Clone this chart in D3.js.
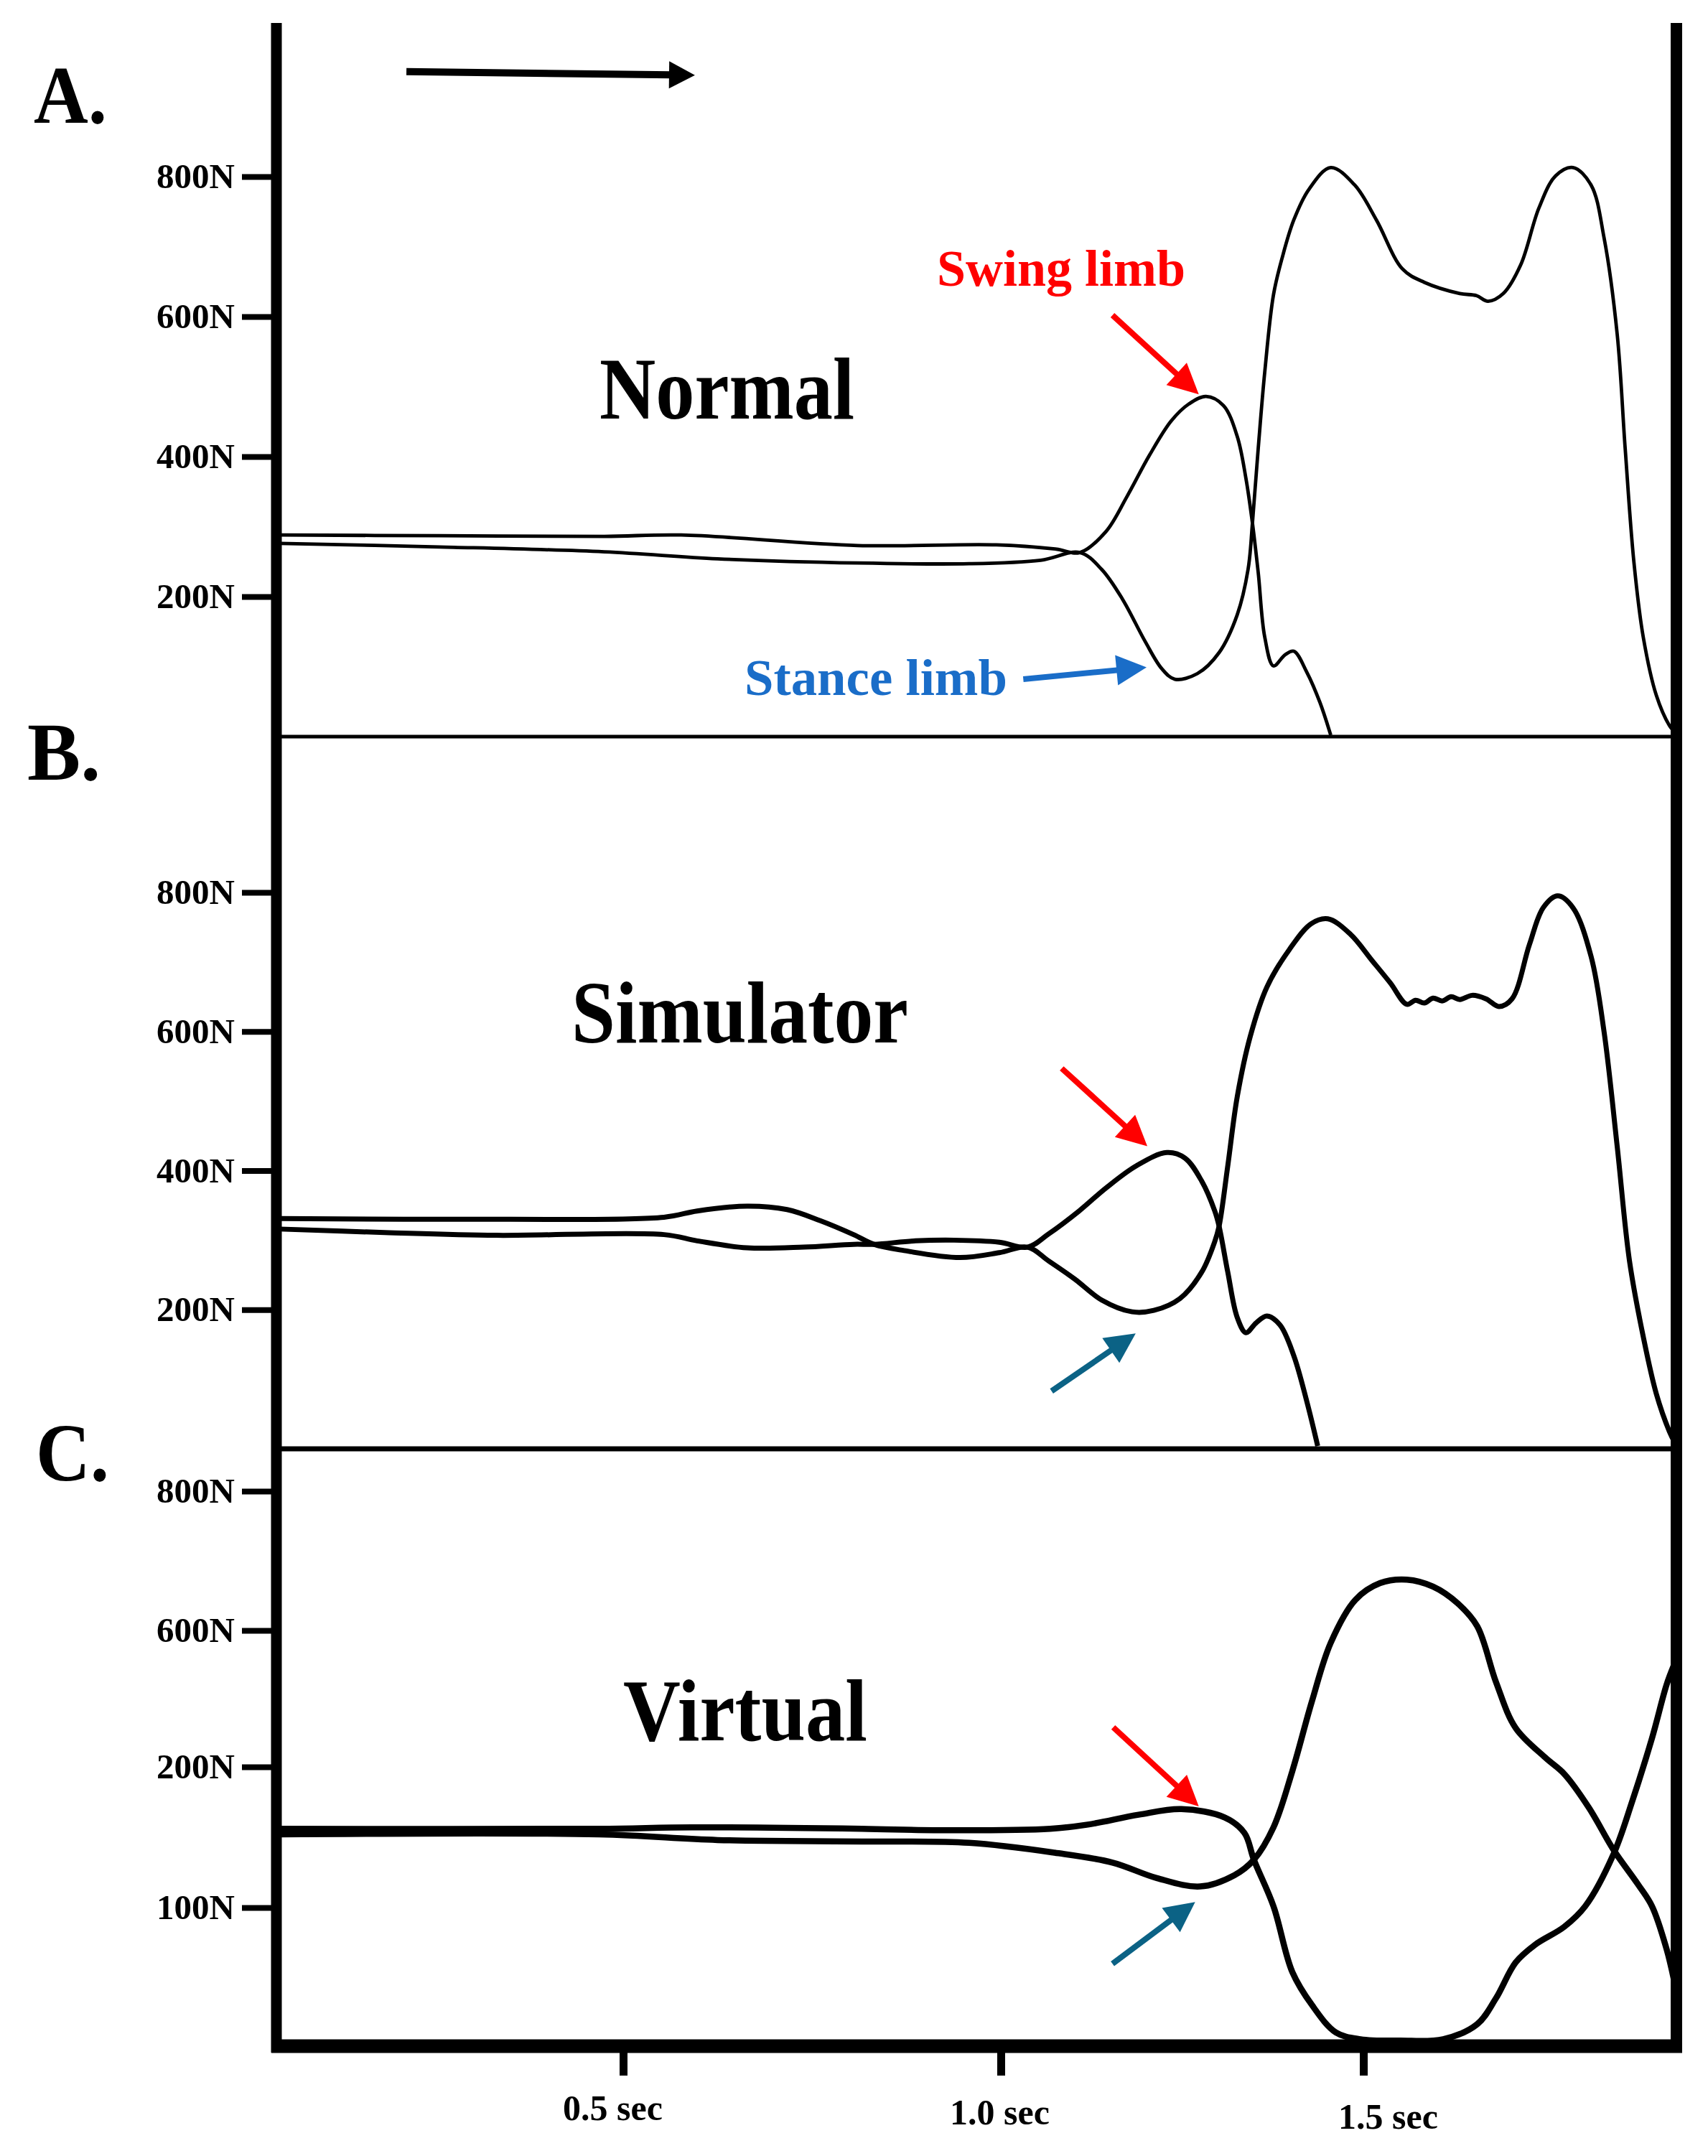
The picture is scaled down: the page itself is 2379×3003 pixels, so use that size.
<!DOCTYPE html>
<html>
<head>
<meta charset="utf-8">
<script src="https://cdn.jsdelivr.net/npm/d3@7"></script>
<style>
  html, body { margin: 0; padding: 0; background: #ffffff; }
  text { font-family: "Liberation Serif", "Times New Roman", "DejaVu Serif", serif; font-weight: bold; }
</style>
</head>
<body>
<svg id="chart" width="2379" height="3003"></svg>
<script>
// ---------------- DATA ----------------
const timeTicks = [0.5, 1.0, 1.5];
const timeTickLabels = ["0.5 sec", "1.0 sec", "1.5 sec"];
const forceTicksAB = [200, 400, 600, 800];
const forceTicksC = [100, 200, 600, 800];
const panelLetters = ["A.", "B.", "C."];
const panelTitles = ["Normal", "Simulator", "Virtual"];
const annotationLabels = ["Swing limb", "Stance limb"];

// Panel A (Normal): [time s, force N]
const normalSwing = [[0.045,288],[0.257,287],[0.475,286],[0.577,288],[0.810,273],[0.994,274],[1.075,268],[1.109,263],
  [1.145,293],[1.174,343],[1.205,402],[1.235,451],[1.259,475],[1.283,486],[1.307,473],[1.326,429],[1.338,369],
  [1.347,305],[1.355,234],[1.364,142],[1.376,101],[1.392,117],[1.404,122],[1.422,92],[1.440,49],[1.455,2]];
const normalStance = [[0.045,276],[0.257,271],[0.475,264],[0.625,254],[0.810,248],[0.958,247],[1.055,252],[1.109,263],
  [1.139,239],[1.168,196],[1.199,136],[1.222,97],[1.240,82],[1.271,90],[1.301,120],[1.326,174],[1.341,239],
  [1.347,305],[1.355,412],[1.364,521],[1.376,631],[1.388,684],[1.404,738],[1.425,782],[1.455,813],[1.488,788],[1.518,738],
  [1.554,668],[1.584,649],[1.633,633],[1.656,630],[1.672,622],[1.693,633],[1.717,674],[1.742,755],[1.765,801],
  [1.789,813],[1.814,788],[1.832,712],[1.850,575],[1.861,412],[1.873,250],[1.886,142],[1.904,59],[1.922,16],[1.930,6]];

// Panel B (Simulator)
const simSwing = [[0.045,316],[0.184,311],[0.332,307],[0.554,308],[0.598,299],[0.664,289],[0.739,290],[0.805,294],
  [0.832,294],[0.887,299],[0.938,300],[0.998,297],[1.037,290],[1.066,309],[1.108,342],[1.145,375],[1.187,407],
  [1.229,426],[1.254,418],[1.277,385],[1.295,342],[1.301,320],[1.313,254],[1.326,189],[1.338,167],[1.352,181],
  [1.367,191],[1.385,178],[1.404,134],[1.422,68],[1.437,4]];
const simStance = [[0.045,331],[0.332,330],[0.554,333],[0.598,342],[0.664,349],[0.717,344],[0.761,328],[0.805,308],
  [0.832,294],[0.872,285],[0.946,275],[0.998,282],[1.037,290],[1.066,270],[1.102,244],[1.139,214],[1.181,197],
  [1.211,199],[1.247,216],[1.277,254],[1.295,298],[1.301,320],[1.313,407],[1.326,506],[1.344,593],[1.367,664],
  [1.398,718],[1.428,755],[1.451,762],[1.482,740],[1.512,702],[1.537,670],[1.560,639],[1.572,645],[1.584,641],
  [1.596,648],[1.609,644],[1.621,650],[1.633,646],[1.650,652],[1.669,647],[1.687,636],[1.705,647],[1.729,725],
  [1.748,778],[1.768,795],[1.789,778],[1.814,708],[1.832,599],[1.850,435],[1.867,270],[1.886,161],[1.904,79],
  [1.922,25],[1.930,8]];

// Panel C (Virtual)
const virtSwing = [[0.045,156],[0.468,156],[0.591,157],[0.816,156],[0.911,155],[1.068,156],[1.120,159],[1.190,166],
  [1.249,170],[1.309,164],[1.336,153],[1.349,134],[1.376,101],[1.402,53],[1.429,29],[1.462,9],[1.496,4],[1.551,3],
  [1.610,4],[1.657,15],[1.683,34],[1.710,60],[1.737,73],[1.777,86],[1.806,101],[1.845,138],[1.871,176],[1.898,284],
  [1.918,440],[1.928,497]];
const virtStance = [[0.045,152],[0.468,152],[0.625,148],[0.816,147],[0.958,146],[1.074,139],[1.154,132],[1.215,121],
  [1.275,115],[1.322,123],[1.349,134],[1.376,157],[1.402,197],[1.429,392],[1.455,564],[1.489,644],[1.523,668],
  [1.560,673],[1.596,663],[1.630,639],[1.657,606],[1.683,448],[1.710,314],[1.751,227],[1.777,195],[1.811,171],
  [1.845,141],[1.878,117],[1.898,101],[1.918,70],[1.928,48]];

// Annotation arrows, in data units [time, force]
const arrowsA = [{from:[1.154,602], to:[1.273,489], color:"#ff0000"}, {from:[1.031,82], to:[1.201,99], color:"#1a6dc8"}];
const arrowsB = [{from:[1.084,547], to:[1.202,435], color:"#ff0000"}, {from:[1.070,83], to:[1.186,166], color:"#0b6285"}];
const arrowsC = [{from:[1.155,316], to:[1.273,172], color:"#ff0000"}, {from:[1.154,59], to:[1.268,104], color:"#0b6285"}];
const directionArrow = {from:[0.213,950], to:[0.595,945], color:"#000000"};

// ---------------- LAYOUT ----------------
const svg = d3.select("#chart");
svg.append("rect").attr("width", 2379).attr("height", 3003).attr("fill", "#ffffff");

const xLeft = 385, xRight = 2335, yTop = 32, yBottomAxis = 2850;

const x = d3.scaleLinear().domain([0.5, 1.0, 1.5]).range([868, 1394, 1899]);
const yA = d3.scaleLinear().domain([0, 800]).range([1026, 246]);
const yB = d3.scaleLinear().domain([0, 800]).range([2018, 1243]);
const yC = d3.scaleLinear().domain([0, 100, 200, 600, 800]).range([2848, 2657, 2461, 2271, 2077]);

const panels = [
  {y: yA, swing: normalSwing, stance: normalStance, lw: 4.8, ticks: forceTicksAB, arrows: arrowsA,
   letter: {x: 47, y: 171}, title: {x: 835, y: 583, len: 355}},
  {y: yB, swing: simSwing, stance: simStance, lw: 7, ticks: forceTicksAB, arrows: arrowsB,
   letter: {x: 38, y: 1086}, title: {x: 796, y: 1452, len: 469}},
  {y: yC, swing: virtSwing, stance: virtStance, lw: 8.5, ticks: forceTicksC, arrows: arrowsC,
   letter: {x: 50, y: 2062}, title: {x: 868, y: 2424, len: 340}}
];

function drawArrow(g, x1, y1, x2, y2, color, w, hl, hw) {
  const dx = x2 - x1, dy = y2 - y1, L = Math.hypot(dx, dy), ux = dx / L, uy = dy / L;
  const bx = x2 - ux * hl, by = y2 - uy * hl;
  g.append("line").attr("x1", x1).attr("y1", y1).attr("x2", bx + ux * 3).attr("y2", by + uy * 3)
    .attr("stroke", color).attr("stroke-width", w);
  g.append("polygon")
    .attr("points", [[x2, y2], [bx - uy * hw, by + ux * hw], [bx + uy * hw, by - ux * hw]].map(p => p.join(",")).join(" "))
    .attr("fill", color);
}

const curvesG = svg.append("g");
const annG = svg.append("g");
const axesG = svg.append("g");

panels.forEach((p, i) => {
  const line = d3.line().x(d => x(d[0])).y(d => p.y(d[1])).curve(d3.curveCatmullRom.alpha(0.5));
  [p.swing, p.stance].forEach(series => {
    curvesG.append("path").attr("d", line(series)).attr("fill", "none")
      .attr("stroke", "#000").attr("stroke-width", p.lw).attr("stroke-linejoin", "round");
  });

  // panel baseline (for A and B)
  if (i < 2) {
    axesG.append("line").attr("x1", xLeft).attr("x2", xRight)
      .attr("y1", p.y(0)).attr("y2", p.y(0)).attr("stroke", "#000").attr("stroke-width", i === 0 ? 5 : 7);
  }

  // y axis ticks
  const ax = d3.axisLeft(p.y).tickValues(p.ticks).tickSize(45).tickPadding(10).tickFormat(d => d + "N");
  const ag = axesG.append("g").attr("transform", `translate(${xLeft - 3},0)`).call(ax);
  ag.select(".domain").remove();
  ag.selectAll(".tick line").attr("stroke", "#000").attr("stroke-width", 8);
  ag.selectAll(".tick text").attr("fill", "#000").style("font-size", "49px")
    .style("font-family", '"Liberation Serif", "Times New Roman", serif').style("font-weight", "bold");

  // panel letter
  svg.append("text").attr("x", p.letter.x).attr("y", p.letter.y).text(panelLetters[i])
    .style("font-size", "115px").attr("textLength", 102).attr("lengthAdjust", "spacingAndGlyphs");
  // title
  svg.append("text").attr("x", p.title.x).attr("y", p.title.y).text(panelTitles[i])
    .style("font-size", "122px").attr("textLength", p.title.len).attr("lengthAdjust", "spacingAndGlyphs");

  // arrows
  p.arrows.forEach(a => {
    drawArrow(annG, x(a.from[0]), p.y(a.from[1]), x(a.to[0]), p.y(a.to[1]), a.color, 8, 42, 21);
  });
});

// Direction arrow at top
drawArrow(annG, x(directionArrow.from[0]), yA(directionArrow.from[1]), x(directionArrow.to[0]), yA(directionArrow.to[1]),
  directionArrow.color, 10, 36, 19);

// Annotation labels in panel A
svg.append("text").attr("x", 1305).attr("y", 398).text(annotationLabels[0]).attr("fill", "#ff0000")
  .style("font-size", "72px").attr("textLength", 346).attr("lengthAdjust", "spacingAndGlyphs");
svg.append("text").attr("x", 1037).attr("y", 968).text(annotationLabels[1]).attr("fill", "#1a6dc8")
  .style("font-size", "72px").attr("textLength", 366).attr("lengthAdjust", "spacingAndGlyphs");

// Frame: left axis, right axis, bottom axis
axesG.append("line").attr("x1", xLeft).attr("x2", xLeft).attr("y1", yTop).attr("y2", yBottomAxis + 9)
  .attr("stroke", "#000").attr("stroke-width", 15);
axesG.append("line").attr("x1", xRight).attr("x2", xRight).attr("y1", yTop).attr("y2", yBottomAxis + 9)
  .attr("stroke", "#000").attr("stroke-width", 16);
axesG.append("line").attr("x1", xLeft - 7).attr("x2", xRight + 8).attr("y1", yBottomAxis).attr("y2", yBottomAxis)
  .attr("stroke", "#000").attr("stroke-width", 19);

// Bottom time axis
const labelNudge = [-15, -2, 34];
const bx = d3.axisBottom(x).tickValues(timeTicks).tickSize(32).tickPadding(26)
  .tickFormat((d, i) => timeTickLabels[i]);
const bg = axesG.append("g").attr("transform", `translate(0,${yBottomAxis + 9})`).call(bx);
bg.select(".domain").remove();
bg.selectAll(".tick line").attr("stroke", "#000").attr("stroke-width", 11);
bg.selectAll(".tick text").attr("fill", "#000").style("font-size", "50px")
  .style("font-family", '"Liberation Serif", "Times New Roman", serif').style("font-weight", "bold")
  .attr("dx", (d, i) => labelNudge[i]).attr("transform", (d, i) => `translate(0,${i * 6})`);
</script>
</body>
</html>
